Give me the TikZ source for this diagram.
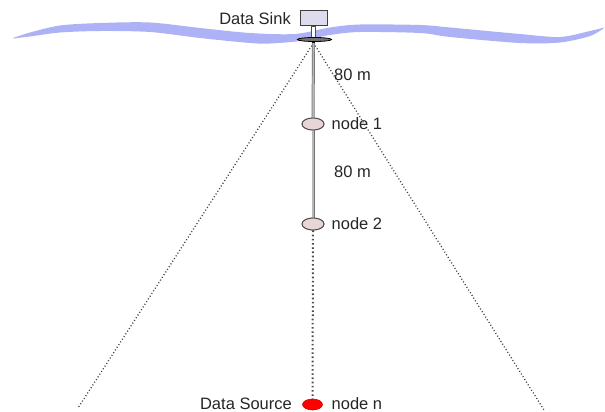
\documentclass[tikz,border=0pt]{standalone}
\usepackage{fontspec}
\setmainfont{Liberation Sans}
\usetikzlibrary{shapes.geometric}
\definecolor{wavecol}{RGB}{172,178,245}
\definecolor{boxfill}{RGB}{220,220,236}
\definecolor{nodefill}{RGB}{232,214,214}
\tikzset{
  lbl/.style={inner sep=0pt, text=black!85, font=\fontsize{16.5}{19}\selectfont},
  sinkbox/.style={draw=black!75, fill=boxfill, line width=1pt, minimum width=27pt, minimum height=15pt, inner sep=0pt},
  stembox/.style={draw=black!70, fill=white, line width=0.7pt, minimum width=4pt, minimum height=12pt, inner sep=0pt},
  discell/.style={ellipse, draw=black, fill=black!55, line width=0.8pt, minimum width=34pt, minimum height=4pt, inner sep=0pt},
  sensor/.style={ellipse, draw=black!70, fill=nodefill, line width=0.9pt, minimum width=22pt, minimum height=12pt, inner sep=0pt},
  source/.style={ellipse, draw=red!85!black, fill=red, line width=0.6pt, minimum width=20pt, minimum height=11pt, inner sep=0pt},
  cable/.style={draw=black!55, double=black!28, double distance=1.6pt, line width=0.7pt},
  dots/.style={draw=black!75, line width=1.3pt, dash pattern=on 1pt off 2.2pt},
  bigdots/.style={draw=black!70, line width=2pt, dash pattern=on 1.6pt off 2.6pt}
}
\begin{document}
\begin{tikzpicture}[x=1pt,y=-1pt]
\useasboundingbox (0,0) rectangle (605,412);
% water surface
\fill[wavecol] plot[smooth] coordinates {(13,38) (30,32.5) (60,25.5) (100,23) (150,22.5) (200,28) (250,33) (295,34) (330,27.5) (360,24.5) (420,25) (450,27.5) (520,34) (560,37) (590,31) (604,27.5)}
  -- plot[smooth] coordinates {(604,28) (590,36) (560,42.5) (520,43) (450,37) (420,33) (360,32) (330,35) (300,41) (270,43.5) (250,43) (200,38) (150,32) (100,31) (60,32.5) (30,36.5) (13,38.5)} -- cycle;
% data sink
\node[sinkbox] (sink) at (314,18) {};
\node[stembox] (stem) at (313.5,32) {};
\node[discell] (disc) at (314.5,39.5) {};
\fill[black] (313.5,42.5) circle (1.6pt);
\coordinate (top) at (313.5,43);
% nodes
\node[sensor] (n1) at (313,124) {};
\node[sensor] (n2) at (313,224) {};
\node[source] (nn) at (312.5,404.5) {};
\coordinate (L) at (78,408);
\coordinate (R) at (544,410);
% connectors
\draw[dots] (top) -- (L);
\draw[dots] (top) -- (R);
\draw[cable] (top) -- (n1);
\draw[cable] (n1) -- (n2);
\draw[bigdots] (n2.south) -- (nn.north);
\node[sensor] at (n1) {};
\node[sensor] at (n2) {};
% labels
\node[lbl, anchor=east] (lsink) at (291,19) {Data Sink};
\node[lbl, anchor=west] (l80a) at (334,75) {80 m};
\node[lbl, anchor=west] (l1) at (331.5,124) {node 1};
\node[lbl, anchor=west] (l80b) at (334,172) {80 m};
\node[lbl, anchor=west] (l2) at (331.5,224) {node 2};
\node[lbl, anchor=east] (lsrc) at (292,404) {Data Source};
\node[lbl, anchor=west] (ln) at (331.5,404) {node n};
\end{tikzpicture}
\end{document}
